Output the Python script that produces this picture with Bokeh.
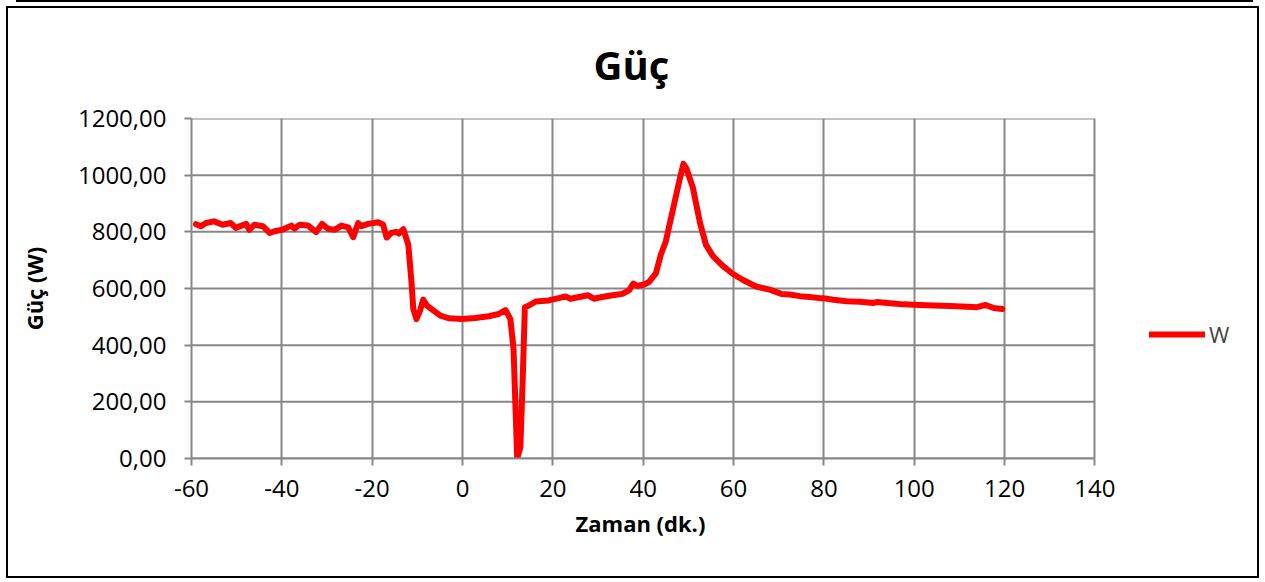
from bokeh.plotting import figure
from bokeh.models import (Range1d, FixedTicker, Legend, LegendItem, ColumnDataSource,
                          Title)
from bokeh.layouts import column
from bokeh.embed import file_html
from bokeh.resources import INLINE

# ---- data ----
time_min = [-59.0, -57.9, -56.8, -55.0, -53.1, -51.3, -50.2, -47.9, -47.2, -46.1,
            -44.2, -42.7, -41.6, -39.8, -37.9, -37.2, -36.1, -34.2, -32.4, -31.1,
            -29.8, -28.3, -26.8, -25.3, -24.2, -23.1, -22.4, -20.9, -18.7, -17.6,
            -16.8, -15.7, -14.6, -14.1, -13.1, -12.0, -11.3, -10.9, -10.2, -9.4,
            -8.7, -7.9, -6.4, -4.9, -3.1, -0.1, 2.8, 5.8, 8.0, 9.5,
            10.6, 11.3, 11.8, 12.1, 12.8, 13.3, 13.8, 14.7, 16.2, 19.1,
            21.3, 22.8, 23.9, 25.8, 27.8, 29.1, 30.9, 33.2, 35.4, 36.9,
            37.8, 38.7, 40.2, 41.3, 42.8, 43.9, 45.0, 46.5, 48.0, 48.9,
            49.6, 51.0, 52.6, 53.9, 55.4, 57.6, 59.8, 62.1, 65.0, 68.0,
            70.6, 72.4, 74.7, 76.9, 79.1, 79.8, 82.1, 85.0, 88.0, 91.0,
            91.7, 94.7, 97.6, 101.3, 104.3, 108.0, 111.7, 113.9, 115.8, 117.6,
            119.5]
power_w = [827, 820, 831, 837, 825, 831, 814, 828, 807, 825,
           820, 796, 802, 808, 822, 811, 825, 822, 799, 828,
           811, 807, 822, 816, 781, 831, 820, 828, 834, 826,
           780, 797, 800, 794, 809, 754, 623, 528, 492, 522,
           561, 540, 522, 504, 495, 492, 496, 502, 510, 524,
           492, 385, 147, 0, 40, 266, 534, 540, 554, 558,
           566, 572, 564, 570, 576, 564, 570, 576, 581, 594,
           617, 609, 614, 623, 653, 719, 766, 873, 980, 1040,
           1022, 956, 830, 754, 715, 680, 652, 630, 607, 596,
           581, 579, 573, 570, 566, 566, 560, 555, 553, 549,
           552, 548, 544, 542, 540, 538, 536, 534, 542, 531,
           528]

x_ticks = [-60, -40, -20, 0, 20, 40, 60, 80, 100, 120, 140]
x_tick_labels = ["-60", "-40", "-20", "0", "20", "40", "60", "80", "100", "120", "140"]
y_ticks = [0, 200, 400, 600, 800, 1000, 1200]
y_tick_labels = ["0,00", "200,00", "400,00", "600,00", "800,00", "1000,00", "1200,00"]
series_name = "W"
title_text = "Güç"
x_title = "Zaman (dk.)"
y_title = "Güç (W)"

FONT = "Open Sans"
GRID = "#878787"

# layout (pixels)
FRAME_W_AXIS = 900          # width of the -60..140 axis span
FRAME_W = 1059              # frame extended to hold the legend on the right
x_lo, x_hi = x_ticks[0], x_ticks[-1]
x_end = x_hi + (FRAME_W - FRAME_W_AXIS) * (x_hi - x_lo) / FRAME_W_AXIS

p = figure(width=1249, height=568, frame_width=FRAME_W, frame_height=336,
           output_backend="svg", toolbar_location=None,
           x_range=Range1d(x_lo, x_end), y_range=Range1d(y_ticks[0], y_ticks[-1]),
           min_border_left=183, min_border_right=7, min_border_top=110,
           min_border_bottom=122)
p.styles = {"border": "2px solid black"}
p.margin = (6, 0, 0, 6)
p.outline_line_color = None

p.title.text = title_text
p.title.align = "left"
p.title.text_font = FONT
p.title.text_font_size = "40px"
p.title.text_font_style = "bold"
p.title.text_color = "black"
p.title.standoff = 53
p.title.offset = 402

# horizontal grid lines limited to the axis span
p.segment(x0=[x_lo] * len(y_ticks), x1=[x_hi] * len(y_ticks), y0=y_ticks, y1=y_ticks,
          line_color=GRID, line_width=2, level="underlay")

src = ColumnDataSource(dict(x=time_min, y=power_w))
r = p.line("x", "y", source=src, line_color="#ff0000", line_width=6,
           line_join="round", line_cap="round")

for ax in (p.xaxis[0], p.yaxis[0]):
    ax.axis_line_color = GRID
    ax.axis_line_width = 2
    ax.major_tick_line_color = GRID
    ax.major_tick_line_width = 2
    ax.major_tick_out = 7
    ax.major_tick_in = 0
    ax.minor_tick_line_color = None
    ax.major_label_text_font = FONT
    ax.major_label_text_font_size = "24px"
    ax.major_label_text_color = "black"
    ax.axis_label_text_font = FONT
    ax.axis_label_text_font_size = "22px"
    ax.axis_label_text_font_style = "bold"
    ax.axis_label_text_color = "black"

p.xaxis.bounds = (x_lo, x_hi)
p.xaxis.ticker = FixedTicker(ticks=x_ticks)
p.yaxis.ticker = FixedTicker(ticks=y_ticks)
p.xaxis.major_label_overrides = {t: l for t, l in zip(x_ticks, x_tick_labels)}
p.yaxis.major_label_overrides = {t: l for t, l in zip(y_ticks, y_tick_labels)}
p.yaxis.axis_label = y_title
p.xaxis.major_label_standoff = 14
p.yaxis.major_label_standoff = 18
p.yaxis.axis_label_standoff = 26

xt = Title(text=x_title, align="left", offset=384, standoff=13,
           text_font=FONT, text_font_size="22px", text_font_style="bold",
           text_color="black")
p.add_layout(xt, "below")

p.xgrid.ticker = FixedTicker(ticks=x_ticks)
p.xgrid.bounds = (x_lo, x_hi)
p.xgrid.grid_line_color = GRID
p.xgrid.grid_line_width = 2
p.ygrid.visible = False

legend = Legend(items=[LegendItem(label=series_name, renderers=[r])],
                location=(958, 109), padding=0, margin=0, spacing=0,
                glyph_width=56, glyph_height=30, label_height=30,
                label_standoff=4, border_line_color=None,
                background_fill_color=None,
                label_text_font=FONT, label_text_font_size="22px")
p.add_layout(legend, "center")

layout = column(p, spacing=0,
                styles={"background-image": "linear-gradient(#000000, #000000)",
                        "background-size": "1237px 2px",
                        "background-position": "16px 0px",
                        "background-repeat": "no-repeat"})
open("out.html", "w").write(file_html(layout, INLINE))
